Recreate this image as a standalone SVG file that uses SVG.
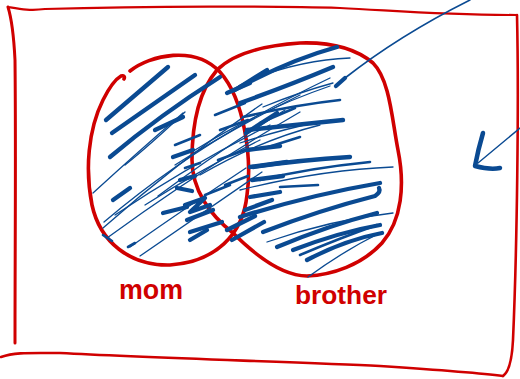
<svg xmlns="http://www.w3.org/2000/svg" width="520" height="379" viewBox="0 0 520 379">
<style>
.red{fill:none;stroke:#d00000;stroke-linecap:round;stroke-linejoin:round}
.b{fill:none;stroke:#0a4a92;stroke-linecap:round;stroke-linejoin:round}
.t1{stroke-width:1.3}
.t2{stroke-width:2.6}
.t3{stroke-width:4.3}
.lbl{fill:#d00000;font-family:"Liberation Sans",Arial,sans-serif;font-weight:bold}
</style>
<rect width="520" height="379" fill="#fff"/>
<g id="frame">
<path class="red" stroke-width="2.2" d="M8,7 C20,9 30,11 45,9 C150,6 280,6 340,8 C400,11 440,15 517,15"/>
<path class="red" stroke-width="3" d="M8,7 C12,20 14,40 15,60 C16,150 15,250 15,343"/>
<path class="red" stroke-width="2.6" d="M517,15 C519,100 517,250 513,340 C512,360 509,372 503,376"/>
<path class="red" stroke-width="2.6" d="M1,357 C15,352 30,353 60,353 C150,358 300,362 380,366 C440,370 480,373 503,376"/>
</g>
<g id="mom-set">
<path class="red" stroke-width="3.6" d="M130,71 C150,55 195,45 220,72 C245,100 252,160 247,195 C243,235 215,262 170,265 C130,266 100,242 92,205 C85,170 88,130 103,100 C109,88 114,80 121,76 C124,75 125,77 124,79"/>
<text class="lbl" x="119" y="299" font-size="27" textLength="64" lengthAdjust="spacingAndGlyphs">mom</text>
</g>
<g id="brother-set">
<path class="red" stroke-width="3.6" d="M233,233 C210,215 192,190 192,160 C192,120 200,90 217,70 C235,52 270,45 300,43 C330,42 355,48 373,63 C390,80 392,120 398,150 C405,185 402,220 382,243 C362,265 332,275 307,276 C282,276 255,255 233,233"/>
<text class="lbl" x="295" y="304" font-size="25" textLength="92" lengthAdjust="spacingAndGlyphs">brother</text>
</g>
<g id="hatching">
<!-- left ellipse -->
<path class="b t3" d="M106,120 L168,67"/>
<path class="b t3" d="M112,133 L195,75"/>
<path class="b t3" d="M110,157 Q160,115 220,77"/>
<path class="b t3" d="M155,130 L183,117"/>
<path class="b t1" d="M125,165 Q150,145 185,112"/>
<path class="b t1" d="M93,193 Q140,150 183,113"/>
<path class="b t3" d="M113,200 L130,188"/>
<path class="b t1" d="M103,228 Q180,160 262,104"/>
<path class="b t1" d="M107,238 Q200,170 300,112"/>
<path class="b t1" d="M104,222 Q200,140 330,78"/>
<path class="b t1" d="M130,247 Q190,205 246,168"/>
<path class="b t1" d="M140,256 Q200,215 262,172"/>
<path class="b t1" d="M115,215 Q190,165 270,125"/>
<path class="b t2" d="M103,235 L112,241"/>
<path class="b t2" d="M128,247 L135,243"/>
<path class="b t1" d="M158,196 Q220,150 285,110"/>
<path class="b t1" d="M175,165 Q230,130 300,95"/>
<path class="b t1" d="M145,205 Q200,170 260,140"/>
<!-- overlap scribbles -->
<path class="b t3" d="M173,157 L193,150"/>
<path class="b t3" d="M180,180 L195,176"/>
<path class="b t3" d="M177,188 L192,191"/>
<path class="b t3" d="M163,213 L187,207"/>
<path class="b t3" d="M187,220 L213,210"/>
<path class="b t3" d="M190,232 L222,222"/>
<path class="b t3" d="M190,240 L207,230"/>
<path class="b t3" d="M227,230 L255,216"/>
<path class="b t3" d="M232,240 L264,222"/>
<path class="b t3" d="M185,205 L205,198 L190,212 L210,205"/>
<path class="b t2" d="M175,145 L200,135"/>
<path class="b t2" d="M185,168 L200,163"/>
<path class="b t3" d="M227,93 L250,83"/>
<path class="b t3" d="M235,90 L267,70"/>
<path class="b t3" d="M246,133 L277,113"/>
<path class="b t3" d="M247,150 L280,146"/>
<path class="b t3" d="M250,167 L287,162"/>
<path class="b t3" d="M252,180 L283,176"/>
<path class="b t3" d="M250,197 L280,192"/>
<path class="b t3" d="M245,210 L272,200"/>
<path class="b t2" d="M215,115 L245,103"/>
<path class="b t2" d="M220,130 L248,120"/>
<path class="b t2" d="M218,160 L245,150"/>
<path class="b t2" d="M225,185 L248,176"/>
<path class="b t2" d="M205,195 L230,185"/>
<path class="b t1" d="M195,150 Q260,110 330,86"/>
<path class="b t1" d="M200,175 Q260,140 320,125"/>
<!-- right ellipse -->
<path class="b t3" d="M240,87 Q290,60 337,47"/>
<path class="b t1" d="M250,80 Q300,60 350,58"/>
<path class="b t3" d="M240,103 Q290,85 333,67"/>
<path class="b t2" d="M243,117 Q295,105 340,100"/>
<path class="b t1" d="M263,107 Q300,92 333,83"/>
<path class="b t3" d="M247,130 Q295,125 343,120"/>
<path class="b t1" d="M240,143 Q280,130 318,122"/>
<path class="b t3" d="M253,167 Q300,160 350,157"/>
<path class="b t2" d="M260,180 Q310,168 370,162"/>
<path class="b t1" d="M240,190 Q320,170 393,167"/>
<path class="b t2" d="M280,187 L318,185"/>
<path class="b t3" d="M240,217 Q310,195 380,183"/>
<path class="b t3" d="M263,232 Q320,210 375,196 Q381,192 379,188"/>
<path class="b t1" d="M267,242 Q330,220 393,213"/>
<path class="b t3" d="M277,247 Q330,225 377,213"/>
<path class="b t3" d="M293,250 Q340,232 380,225"/>
<path class="b t2" d="M300,255 Q340,238 377,225"/>
<path class="b t3" d="M307,260 Q345,240 382,233"/>
<path class="b t1" d="M308,277 Q345,250 380,233"/>
<path class="b t2" d="M260,123 L295,108"/>
<path class="b t2" d="M265,148 L300,137"/>
</g>
<g id="connectors">
<path class="b" stroke-width="1.6" d="M470,0 Q400,35 345,78"/>
<path class="b t3" d="M345,78 L336,86"/>
<path class="b" stroke-width="1.4" d="M520,128 L478,163"/>
<path class="b" stroke-width="4.5" d="M483,133 Q478,150 475,166 Q490,170 500,168"/>
</g>
</svg>
